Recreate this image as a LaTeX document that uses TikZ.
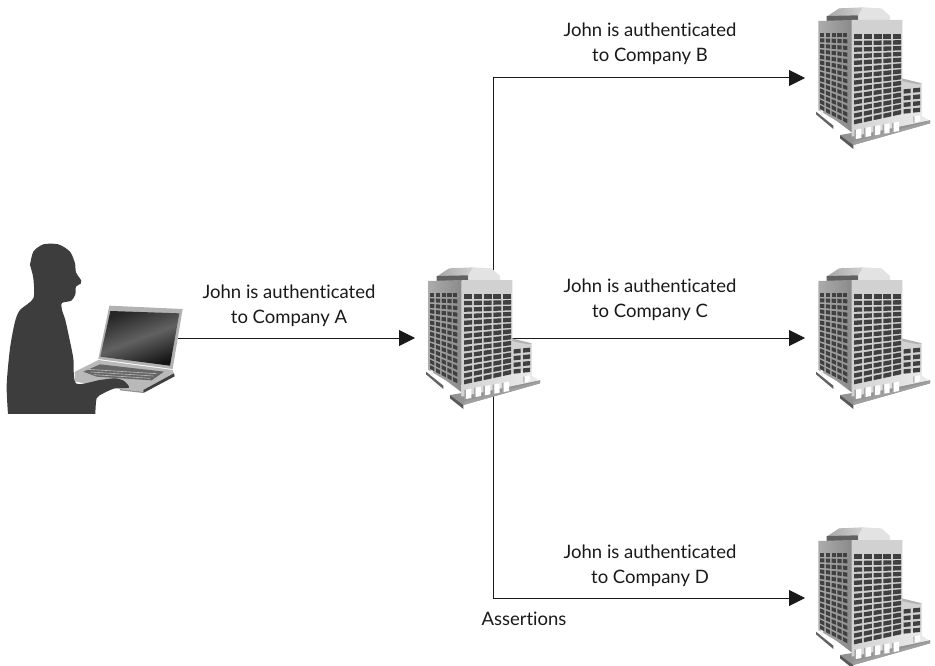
\documentclass[tikz,border=0pt]{standalone}
\usepackage{fontspec}
\setmainfont{Lato}[Ligatures=NoCommon]
\usetikzlibrary{arrows.meta}
\definecolor{sil}{gray}{0.24}
\definecolor{win}{gray}{0.25}
\tikzset{
  x=1pt,y=-1pt,
  slot/.style={minimum width=156pt,minimum height=140pt,inner sep=0pt,outer sep=0pt},
  lbl/.style={align=center,font=\fontsize{18.5}{25}\selectfont,inner sep=0pt,text=black!90},
  link/.style={line width=1pt,black!90,-{Triangle[length=16pt,width=16pt]}},
  bldg/.pic={
    \begin{scope}[scale=1/3,shift={(-249,-249)}]
      % plinths
      \fill[black!62] (48,350) -- (100,392) -- (100,402) -- (48,358) -- cycle;
      \fill[gray!85] (120,420) -- (160,450) -- (390,385) -- (390,375) -- cycle;
      \fill[black!65] (120,420) -- (160,450) -- (160,462) -- (120,430) -- cycle;
      \fill[gray!75] (160,450) -- (390,385) -- (390,378) -- (160,440) -- cycle;
      % roof
      \shade[left color=gray!70,right color=gray!35] (80,65) -- (117,40) -- (190,37) -- (175,62) -- cycle;
      \fill[black!62] (80,63) -- (175,61) -- (175,78) -- (80,78) -- cycle;
      \fill[gray!22] (190,37) -- (245,40) -- (270,63) -- (270,78) -- (175,78) -- (175,61) -- cycle;
      % annex
      \fill[gray!35] (300,250) -- (365,265) -- (365,362) -- (300,385) -- cycle;
      \fill[gray!60] (305,250) -- (365,265) -- (355,268) -- (305,258) -- cycle;
      % left face
      \shade[left color=gray!65,right color=gray!92] (55,78) -- (155,75) -- (155,412) -- (110,378) -- (55,345) -- cycle;
      % front face
      \fill[gray!36] (155,75) -- (307,75) -- (307,355) -- (155,392) -- cycle;
      % lower band of the front
      \shade[left color=gray!35,right color=gray!15] (155,390) -- (365,342) -- (365,362) -- (388,376) -- (155,425) -- cycle;
      % bottom pillars
      \foreach \xa/\ya in {163/405,192/399,220/394,248/389,276/384}{
        \fill[gray!70] (\xa,\ya) -- (\xa+5,\ya-1) -- (\xa+5,\ya+27) -- (\xa,\ya+28) -- cycle;
        \fill[white] (\xa+5,\ya-1) -- (\xa+21,\ya-4) -- (\xa+21,\ya+24) -- (\xa+5,\ya+27) -- cycle;
      }
      \fill[gray!70] (340,365) -- (344,364) -- (344,382) -- (340,383) -- cycle;
      \fill[white] (344,364) -- (360,361) -- (360,378) -- (344,382) -- cycle;
      \fill[gray!12] (62,338) -- (69,343) -- (69,366) -- (62,361) -- cycle;
      % front windows
      \foreach \j in {0,...,13}{
        \pgfmathsetmacro{\yl}{118+\j*19.77}
        \pgfmathsetmacro{\yr}{118+\j*17.46}
        \foreach \i in {0,...,4}{
          \pgfmathsetmacro{\xa}{162+\i*29.3}
          \pgfmathsetmacro{\ta}{(\xa-162)/140}
          \pgfmathsetmacro{\tb}{(\xa+24-162)/140}
          \fill[win] (\xa,{\yl+(\yr-\yl)*\ta}) -- (\xa+24,{\yl+(\yr-\yl)*\tb}) -- (\xa+24,{\yl+(\yr-\yl)*\tb+13}) -- (\xa,{\yl+(\yr-\yl)*\ta+13}) -- cycle;
        }
      }
      % left windows
      \foreach \j in {0,...,13}{
        \pgfmathsetmacro{\yl}{113+\j*16.7}
        \pgfmathsetmacro{\yr}{113+\j*20.1}
        \foreach \i in {0,...,4}{
          \pgfmathsetmacro{\xa}{60+\i*17.3}
          \pgfmathsetmacro{\ta}{(\xa-60)/85}
          \pgfmathsetmacro{\tb}{(\xa+13-60)/85}
          \fill[win] (\xa,{\yl+(\yr-\yl)*\ta}) -- (\xa+13,{\yl+(\yr-\yl)*\tb}) -- (\xa+13,{\yl+(\yr-\yl)*\tb+12}) -- (\xa,{\yl+(\yr-\yl)*\ta+12}) -- cycle;
        }
      }
      % annex windows
      \foreach \j in {0,...,3}{
        \foreach \i in {0,1}{
          \pgfmathsetmacro{\xa}{311+\i*28}
          \pgfmathsetmacro{\ya}{283+\j*20-\i*3}
          \fill[win] (\xa,\ya) -- (\xa+21,\ya-2) -- (\xa+21,\ya+11) -- (\xa,\ya+13) -- cycle;
        }
      }
    \end{scope}
  }
}
\begin{document}
\begin{tikzpicture}
\useasboundingbox (0,0) rectangle (935,666);
% anchor slots
\node[slot,minimum width=178pt,minimum height=192pt] (person) at (89,338) {};
\node[slot] (hq) at (493,338) {};
\node[slot] (b) at (883,78) {};
\node[slot] (c) at (883,338) {};
\node[slot] (d) at (883,598) {};
% connectors
\draw[link] (person.east) -- (hq.west);
\draw[link] (hq.center) |- (b.west);
\draw[link] (hq.center) -- (c.west);
\draw[link] (hq.center) |- (d.west);
% buildings
\pic at (hq.center) {bldg};
\pic at (b.center) {bldg};
\pic at (c.center) {bldg};
\pic at (d.center) {bldg};
% laptop and person
\begin{scope}[shift={(0,235)},scale=1/3]
  \fill[gray!55] (225,410) -- (295,375) -- (518,405) -- (522,420) -- (430,470) -- (360,462) -- (225,440) -- cycle;
  \fill[black!75] (430,465) -- (522,415) -- (524,424) -- (430,474) -- cycle;
  \fill[black!60] (250,410) -- (300,388) -- (492,410) -- (455,436) -- (290,425) -- cycle;
  \foreach \k in {0,1,2}{
    \draw[gray!55,line width=.6pt] ({262+\k*10},{403+\k*8}) -- ({470-\k*10},{416+\k*7});
  }
  \fill[gray!60] (328,212) -- (548,222) -- (518,402) -- (295,372) -- cycle;
  \shade[left color=black!85,right color=black!92,middle color=black!62,shading angle=20] (331,228) -- (538,235) -- (510,392) -- (301,365) -- cycle;
  \fill[gray!85] (360,462) -- (430,470) -- (430,474) -- (360,466) -- cycle;
  \fill[sil] plot[smooth,tension=.45] coordinates {
    (90,90) (100,50) (130,28) (175,28) (210,50) (225,85) (228,112) (244,137) (242,146) (228,155) (226,178) (214,197) (186,204)
    (186,225) (196,255) (208,310) (220,370) (228,445) (300,435) (345,430) (372,438) (387,458) (345,460) (310,475) (290,490) (286,537)}
    -- plot[smooth,tension=.45] coordinates {(24,537) (20,450) (30,340) (45,260) (60,225) (100,190) (100,130) (90,90)} -- cycle;
\end{scope}
% labels
\node[lbl] (la) at (289,306) {John is authenticated\\to Company A};
\node[lbl] (lb) at (650,44) {John is authenticated\\to Company B};
\node[lbl] (lc) at (650,300) {John is authenticated\\to Company C};
\node[lbl] (ld) at (650,566) {John is authenticated\\to Company D};
\node[lbl] (as) at (524,619) {Assertions};
\end{tikzpicture}
\end{document}
